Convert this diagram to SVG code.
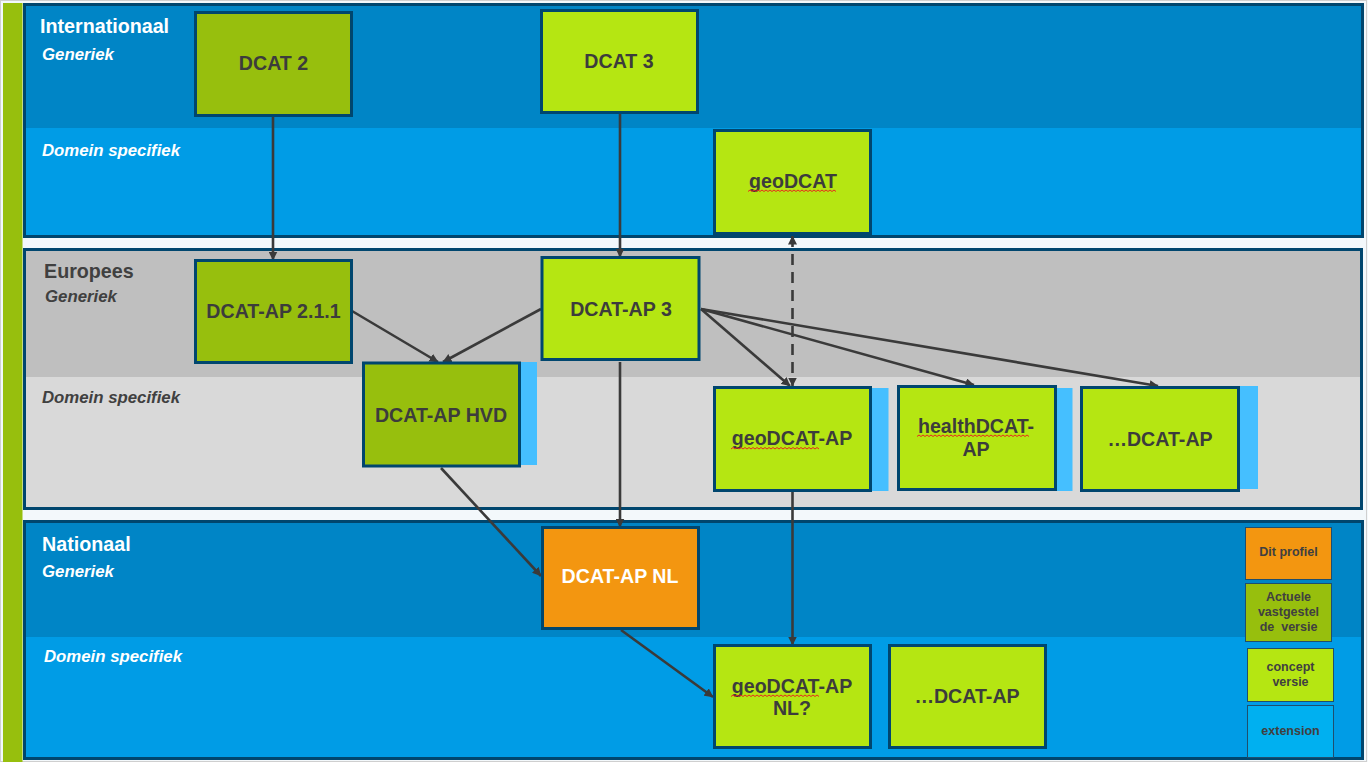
<svg xmlns="http://www.w3.org/2000/svg" width="1368" height="762" viewBox="0 0 1368 762">
<style>
  .sec { fill: none; stroke: #00466e; stroke-width: 3; }
  .node { stroke: #00466e; stroke-width: 3; }
  .dark { fill: #97bf0d; }
  .lime { fill: #b5e612; }
  .orange { fill: #f39610; }
  .ext { fill: #45bfff; }
  .lbl { font-family: "Liberation Sans", Arial, sans-serif; font-weight: bold; font-size: 19.6px; fill: #3c3c3c; text-anchor: middle; }
  .title { font-family: "Liberation Sans", Arial, sans-serif; font-weight: bold; font-size: 19.7px; }
  .sub { font-family: "Liberation Sans", Arial, sans-serif; font-weight: bold; font-style: italic; font-size: 16.8px; }
  .white { fill: #ffffff; }
  .grey { fill: #404040; }
  .leg { stroke: #1f4e6e; stroke-width: 1; }
  .legt { font-family: "Liberation Sans", Arial, sans-serif; font-weight: bold; font-size: 12.5px; fill: #404040; text-anchor: middle; }
  .con { stroke: #3a3a3a; stroke-width: 2.6; fill: none; }
  .squig { stroke: #e8281e; stroke-width: 1; fill: none; }
</style>
<defs>
  <marker id="arr" viewBox="0 0 9 9" refX="8.5" refY="4.5" markerWidth="9" markerHeight="9" markerUnits="userSpaceOnUse" orient="auto-start-reverse">
    <path d="M0,0 L9,4.5 L0,9 z" fill="#3a3a3a"/>
  </marker>
</defs>

<!-- background -->
<rect x="0" y="0" width="1368" height="762" fill="#f3f8fb"/>
<rect x="0.5" y="0.5" width="1366" height="761" fill="none" stroke="#cfcfcf" stroke-width="1"/>
<rect x="3" y="3" width="19.5" height="759" fill="#97bf0d"/>

<!-- Internationaal -->
<g id="sec-internationaal">
  <rect x="24" y="4" width="1339" height="124" fill="#0085c6"/>
  <rect x="24" y="128" width="1339" height="109" fill="#009ce6"/>
  <rect class="sec" x="24.5" y="4.5" width="1338" height="232"/>
  <text class="title white" x="40" y="33">Internationaal</text>
  <text class="sub white" x="42" y="60">Generiek</text>
  <text class="sub white" x="42" y="156">Domein specifiek</text>
</g>

<!-- Europees -->
<g id="sec-europees">
  <rect x="24" y="249" width="1338" height="128" fill="#bfbfbf"/>
  <rect x="24" y="377" width="1338" height="132" fill="#d9d9d9"/>
  <rect class="sec" x="24.5" y="249.5" width="1337" height="259"/>
  <text class="title grey" x="44" y="278">Europees</text>
  <text class="sub grey" x="45" y="302">Generiek</text>
  <text class="sub grey" x="42" y="403">Domein specifiek</text>
</g>

<!-- Nationaal -->
<g id="sec-nationaal">
  <rect x="24" y="521" width="1339" height="116" fill="#0085c6"/>
  <rect x="24" y="637" width="1339" height="122" fill="#009ce6"/>
  <rect class="sec" x="24.5" y="521.5" width="1338" height="237"/>
  <text class="title white" x="42" y="551">Nationaal</text>
  <text class="sub white" x="42" y="577">Generiek</text>
  <text class="sub white" x="44" y="662">Domein specifiek</text>
</g>

<!-- connectors -->
<g id="connectors">
  <line class="con" x1="273" y1="117" x2="273" y2="260" marker-end="url(#arr)"/>
  <line class="con" x1="620" y1="114" x2="620" y2="257" marker-end="url(#arr)"/>
  <line class="con" x1="352" y1="311" x2="438" y2="362" marker-end="url(#arr)"/>
  <line class="con" x1="541" y1="309" x2="443" y2="362" marker-end="url(#arr)"/>
  <line class="con" x1="701" y1="309" x2="790" y2="386" marker-end="url(#arr)"/>
  <line class="con" x1="701" y1="309" x2="974" y2="385" marker-end="url(#arr)"/>
  <line class="con" x1="701" y1="309" x2="1158" y2="386" marker-end="url(#arr)"/>
  <line class="con" x1="792.5" y1="236" x2="792.5" y2="386" stroke-dasharray="11,7" marker-start="url(#arr)" marker-end="url(#arr)"/>
  <line class="con" x1="620" y1="362" x2="620" y2="527" marker-end="url(#arr)"/>
  <line class="con" x1="441" y1="468" x2="541" y2="576" marker-end="url(#arr)"/>
  <line class="con" x1="792.5" y1="492" x2="792.5" y2="645" marker-end="url(#arr)"/>
  <line class="con" x1="621" y1="630" x2="713" y2="697" marker-end="url(#arr)"/>
</g>

<!-- nodes -->
<g id="n-dcat2">
  <rect class="node dark" x="195.5" y="12.5" width="156" height="103"/>
  <text class="lbl" x="273.5" y="70">DCAT 2</text>
</g>
<g id="n-dcat3">
  <rect class="node lime" x="541.5" y="10.5" width="156" height="102"/>
  <text class="lbl" x="619" y="68">DCAT 3</text>
</g>
<g id="n-geodcat">
  <rect class="node lime" x="714.5" y="130.5" width="156" height="103"/>
  <text class="lbl" x="793" y="188">geoDCAT</text>
  <path class="squig" d="M748,191.5 l2,-1.5 l2,1.5 l2,-1.5 l2,1.5 l2,-1.5 l2,1.5 l2,-1.5 l2,1.5 l2,-1.5 l2,1.5 l2,-1.5 l2,1.5 l2,-1.5 l2,1.5 l2,-1.5 l2,1.5 l2,-1.5 l2,1.5 l2,-1.5 l2,1.5 l2,-1.5 l2,1.5 l2,-1.5 l2,1.5 l2,-1.5 l2,1.5 l2,-1.5 l2,1.5 l2,-1.5 l2,1.5 l2,-1.5 l2,1.5 l2,-1.5 l2,1.5 l2,-1.5 l2,1.5 l2,-1.5 l2,1.5 l2,-1.5 l2,1.5 l2,-1.5 l2,1.5 l2,-1.5 l2,1.5"/>
</g>
<g id="n-dcatap211">
  <rect class="node dark" x="195.5" y="260.5" width="156" height="102"/>
  <text class="lbl" x="273.5" y="318">DCAT-AP 2.1.1</text>
</g>
<g id="n-dcatap3">
  <rect class="node lime" x="542" y="257.5" width="157" height="102"/>
  <text class="lbl" x="621" y="316">DCAT-AP 3</text>
</g>
<g id="n-hvd">
  <rect class="ext" x="520" y="362" width="17" height="103"/>
  <rect class="node dark" x="363.5" y="363" width="156" height="103"/>
  <text class="lbl" x="441" y="422">DCAT-AP HVD</text>
</g>
<g id="n-geodcatap">
  <rect class="ext" x="871" y="388" width="17.5" height="103"/>
  <rect class="node lime" x="714.5" y="387.5" width="156" height="103"/>
  <text class="lbl" x="792" y="445">geoDCAT-AP</text>
  <path class="squig" d="M731,449 l2,-1.5 l2,1.5 l2,-1.5 l2,1.5 l2,-1.5 l2,1.5 l2,-1.5 l2,1.5 l2,-1.5 l2,1.5 l2,-1.5 l2,1.5 l2,-1.5 l2,1.5 l2,-1.5 l2,1.5 l2,-1.5 l2,1.5 l2,-1.5 l2,1.5 l2,-1.5 l2,1.5 l2,-1.5 l2,1.5 l2,-1.5 l2,1.5 l2,-1.5 l2,1.5 l2,-1.5 l2,1.5 l2,-1.5 l2,1.5 l2,-1.5 l2,1.5 l2,-1.5 l2,1.5 l2,-1.5 l2,1.5 l2,-1.5 l2,1.5 l2,-1.5 l2,1.5 l2,-1.5 l2,1.5"/>
</g>
<g id="n-healthdcatap">
  <rect class="ext" x="1056" y="388" width="16.5" height="103"/>
  <rect class="node lime" x="898.5" y="386.5" width="157" height="103"/>
  <text class="lbl" x="976" y="433">healthDCAT-</text>
  <text class="lbl" x="976" y="456">AP</text>
  <path class="squig" d="M917,436.5 l2,-1.5 l2,1.5 l2,-1.5 l2,1.5 l2,-1.5 l2,1.5 l2,-1.5 l2,1.5 l2,-1.5 l2,1.5 l2,-1.5 l2,1.5 l2,-1.5 l2,1.5 l2,-1.5 l2,1.5 l2,-1.5 l2,1.5 l2,-1.5 l2,1.5 l2,-1.5 l2,1.5 l2,-1.5 l2,1.5 l2,-1.5 l2,1.5 l2,-1.5 l2,1.5 l2,-1.5 l2,1.5 l2,-1.5 l2,1.5 l2,-1.5 l2,1.5 l2,-1.5 l2,1.5 l2,-1.5 l2,1.5 l2,-1.5 l2,1.5 l2,-1.5 l2,1.5 l2,-1.5 l2,1.5 l2,-1.5 l2,1.5 l2,-1.5 l2,1.5 l2,-1.5 l2,1.5 l2,-1.5 l2,1.5 l2,-1.5 l2,1.5 l2,-1.5 l2,1.5"/>
</g>
<g id="n-overigdcatap-eu">
  <rect class="ext" x="1239" y="386" width="19" height="103"/>
  <rect class="node lime" x="1081.5" y="387.5" width="157" height="103"/>
  <text class="lbl" x="1160" y="446">…DCAT-AP</text>
</g>
<g id="n-dcatapnl">
  <rect class="node orange" x="542.5" y="527.5" width="156" height="101"/>
  <text class="lbl" x="620" y="583" style="fill:#ffffff">DCAT-AP NL</text>
</g>
<g id="n-geodcatapnl">
  <rect class="node lime" x="714.5" y="645.5" width="156" height="102"/>
  <text class="lbl" x="792" y="693">geoDCAT-AP</text>
  <text class="lbl" x="792" y="715">NL?</text>
  <path class="squig" d="M731,696.5 l2,-1.5 l2,1.5 l2,-1.5 l2,1.5 l2,-1.5 l2,1.5 l2,-1.5 l2,1.5 l2,-1.5 l2,1.5 l2,-1.5 l2,1.5 l2,-1.5 l2,1.5 l2,-1.5 l2,1.5 l2,-1.5 l2,1.5 l2,-1.5 l2,1.5 l2,-1.5 l2,1.5 l2,-1.5 l2,1.5 l2,-1.5 l2,1.5 l2,-1.5 l2,1.5 l2,-1.5 l2,1.5 l2,-1.5 l2,1.5 l2,-1.5 l2,1.5 l2,-1.5 l2,1.5 l2,-1.5 l2,1.5 l2,-1.5 l2,1.5 l2,-1.5 l2,1.5 l2,-1.5 l2,1.5"/>
</g>
<g id="n-overigdcatap-nl">
  <rect class="node lime" x="889.5" y="645.5" width="156" height="102"/>
  <text class="lbl" x="967" y="703">…DCAT-AP</text>
</g>

<!-- legend -->
<g id="legend-dit-profiel">
  <rect class="leg orange" x="1245.5" y="527.5" width="86" height="52"/>
  <text class="legt" x="1288.5" y="556">Dit profiel</text>
</g>
<g id="legend-vastgesteld">
  <rect class="leg dark" x="1245.5" y="583.5" width="86" height="58"/>
  <text class="legt" x="1288.5" y="601">Actuele</text>
  <text class="legt" x="1288.5" y="616">vastgestel</text>
  <text class="legt" x="1288.5" y="631" xml:space="preserve">de  versie</text>
</g>
<g id="legend-concept">
  <rect class="leg lime" x="1247.5" y="648.5" width="86" height="53"/>
  <text class="legt" x="1290.5" y="671">concept</text>
  <text class="legt" x="1290.5" y="686">versie</text>
</g>
<g id="legend-extension">
  <rect class="leg" x="1247.5" y="705.5" width="86" height="52" fill="#00b0f0"/>
  <text class="legt" x="1290.5" y="735">extension</text>
</g>
</svg>
